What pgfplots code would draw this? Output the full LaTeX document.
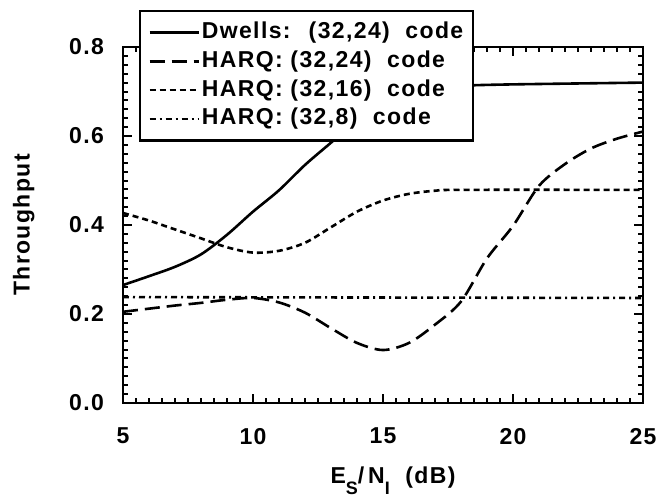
\documentclass[border=0pt]{standalone}
\usepackage{pgfplots}
\pgfplotsset{compat=1.18}
\usepackage{fontspec}
\setmainfont{Liberation Sans}[LetterSpace=6]

% curves
\pgfplotstableread{
x y
5 0.265
6 0.285
7 0.306
8 0.334
9 0.378
10 0.430
11 0.478
12 0.535
13 0.585
14 0.635
15 0.672
16 0.695
17 0.708
18 0.713
20 0.716
25 0.720
}\dwells
\pgfplotstableread{
x y
5 0.205
6 0.212
7 0.219
8 0.225
9 0.232
10 0.236
11 0.226
12 0.203
13 0.168
14 0.135
15 0.119
16 0.135
17 0.176
18 0.228
19 0.325
20 0.398
21 0.488
22 0.537
23 0.572
24 0.594
25 0.610
}\harqa
\pgfplotstableread{
x y
5 0.427
6 0.410
7 0.390
8 0.370
9 0.350
10 0.338
11 0.342
12 0.360
13 0.395
14 0.430
15 0.455
16 0.470
17 0.477
18 0.479
25 0.479
}\harqb
\pgfplotstableread{
x y
5 0.238
15 0.237
25 0.236
}\harqc

\begin{document}
\begin{tikzpicture}[font=\bfseries\fontsize{11.5}{14}\selectfont]
\begin{axis}[
  scale only axis, width=260pt, height=178pt,
  xmin=5, xmax=25, ymin=0, ymax=0.8,
  xtick={5,10,15,20,25}, ytick={0,0.2,0.4,0.6,0.8},
  minor x tick num=9, minor y tick num=9,
  tick align=inside, major tick length=4.5pt, minor tick length=2.5pt,
  every tick/.style={black, line width=1pt},
  axis line style={line width=1.4pt},
  /pgf/number format/assume math mode=true,
  yticklabel style={/pgf/number format/fixed, /pgf/number format/fixed zerofill,
    /pgf/number format/precision=1, xshift=-6pt},
  xticklabel style={yshift=-9pt},
  xlabel={E\raisebox{-5.5pt}{\fontsize{9}{10}\selectfont S}/\,N\raisebox{-5.5pt}{\fontsize{9}{10}\selectfont I}\ \ (dB)},
  xlabel style={at={(axis description cs:0.5,0)}, anchor=base, yshift=-40.5pt, xshift=5pt},
  ylabel={Throughput},
  ylabel style={at={(axis description cs:-0.191,0.5)}, anchor=center},
  legend cell align=left,
  legend style={at={(0.0308,1.104)}, anchor=north west, draw=black,
    line width=1.2pt, fill=white, inner xsep=4pt, inner ysep=3.5pt,
    row sep=0pt, font=\bfseries\fontsize{11.5}{14}\selectfont,
    nodes={inner xsep=1pt, inner ysep=1.2pt, text height=9pt, text depth=3pt}},
  legend image code/.code={\draw[#1] (0pt,0pt) -- (24.5pt,0pt);},
  every axis plot/.append style={line width=1.3pt, black, smooth, tension=0.5},
]
\addplot[solid] table {\dwells};
\addplot[dash pattern=on 7.5pt off 3.5pt] table {\harqa};
\addplot[dash pattern=on 3pt off 2pt] table {\harqb};
\addplot[dash pattern=on 3pt off 2pt on 1pt off 2pt] table {\harqc};
\legend{{Dwells:~ (32,24)~ code}, {HARQ: (32,24)~ code}, {HARQ: (32,16)~ code}, {HARQ: (32,8)~ code}}
\coordinate (bl) at (rel axis cs:0,0);
\coordinate (tr) at (rel axis cs:1,1);
\end{axis}
\pgfresetboundingbox
\path ([xshift=-61.5pt,yshift=-48.5pt]bl) rectangle ([xshift=14.5pt,yshift=23.5pt]tr);
\end{tikzpicture}
\end{document}
